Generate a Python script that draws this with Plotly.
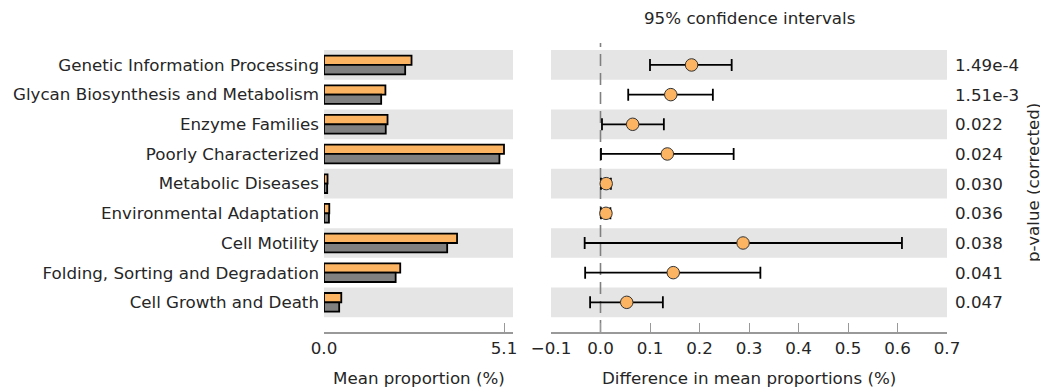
import plotly.graph_objects as go

categories = ["Genetic Information Processing", "Glycan Biosynthesis and Metabolism",
              "Enzyme Families", "Poorly Characterized", "Metabolic Diseases",
              "Environmental Adaptation", "Cell Motility",
              "Folding, Sorting and Degradation", "Cell Growth and Death"]
group1_mean = [2.48, 1.74, 1.80, 5.10, 0.10, 0.15, 3.77, 2.16, 0.49]
group2_mean = [2.30, 1.62, 1.75, 4.97, 0.09, 0.14, 3.49, 2.03, 0.43]
diff = [0.184, 0.142, 0.065, 0.135, 0.0115, 0.011, 0.288, 0.147, 0.053]
ci_low = [0.100, 0.056, 0.003, 0.001, 0.001, 0.001, -0.032, -0.031, -0.021]
ci_high = [0.265, 0.227, 0.128, 0.269, 0.021, 0.020, 0.609, 0.323, 0.126]
pvalues = ["1.49e-4", "1.51e-3", "0.022", "0.024", "0.030", "0.036", "0.038", "0.041", "0.047"]

ORANGE = "#FDB462"
GRAY = "#808080"
TXT = "#262626"
FONT = "DejaVu Sans"
FS = 16.7
W, H = 1048, 392
OFF = 8  # page body margin
PT, PB = 43 - OFF, 332 - OFF   # plot area top / bottom in figure pixels
PH = PB - PT


def px(x):
    return (x - OFF) / W


def py(y):
    return (PB - (y - OFF)) / PH


fig = go.Figure()
fig.add_trace(go.Bar(y=categories, x=group1_mean, orientation="h",
                     marker=dict(color=ORANGE, line=dict(color="black", width=1.8)),
                     xaxis="x", yaxis="y", showlegend=False))
fig.add_trace(go.Bar(y=categories, x=group2_mean, orientation="h",
                     marker=dict(color=GRAY, line=dict(color="black", width=1.8)),
                     xaxis="x", yaxis="y", showlegend=False))
fig.add_trace(go.Scatter(
    y=categories, x=diff, mode="markers", xaxis="x2", yaxis="y", showlegend=False,
    marker=dict(size=12.5, color=ORANGE, line=dict(color="#333333", width=1)),
    error_x=dict(type="data", symmetric=False,
                 array=[h - d for h, d in zip(ci_high, diff)],
                 arrayminus=[d - l for d, l in zip(diff, ci_low)],
                 color="black", thickness=1.8, width=6)))

shapes = []
for i in range(0, len(categories), 2):
    for xr in ("x domain", "x2 domain"):
        shapes.append(dict(type="rect", xref=xr, yref="y", x0=0, x1=1,
                           y0=i - 0.5, y1=i + 0.5, fillcolor="#E5E5E5",
                           line=dict(width=0), layer="below"))
shapes.append(dict(type="line", xref="x2", yref="y domain", x0=0, x1=0, y0=0, y1=1,
                   line=dict(color="#808080", width=1.6, dash="12px,7px"), layer="below"))

axis_common = dict(showline=True, linecolor="#999999", linewidth=1.5, ticks="inside",
                   ticklen=9, tickcolor="#999999", tickwidth=1.2, showgrid=False,
                   zeroline=False, tickfont=dict(family=FONT, size=FS, color=TXT),
                   automargin=False)

fig.update_layout(
    width=W, height=H, plot_bgcolor="white", paper_bgcolor="white",
    margin=dict(l=0, r=0, t=PT, b=H - PB),
    barmode="group", bargap=0.37, bargroupgap=0,
    shapes=shapes,
    xaxis=dict(domain=[px(324), px(513)], range=[0, 5.355], tickvals=[0, 5.1],
               ticktext=["0.0", "5.1"], anchor="y", **axis_common),
    xaxis2=dict(domain=[px(551), px(947)], range=[-0.1, 0.7],
                tickvals=[-0.1, 0, 0.1, 0.2, 0.3, 0.4, 0.5, 0.6, 0.7],
                ticktext=["\u22120.1", "0.0", "0.1", "0.2", "0.3", "0.4", "0.5", "0.6", "0.7"],
                anchor="y", **axis_common),
    yaxis=dict(type="category", categoryorder="array", categoryarray=categories,
               range=[9.0, -0.74], showline=False, ticks="", showgrid=False,
               zeroline=False, automargin=False, ticklabelstandoff=4,
               tickfont=dict(family=FONT, size=FS, color=TXT)),
    font=dict(family=FONT, color=TXT),
)

ann = [
    dict(text="95% confidence intervals", x=749, y=18),
    dict(text="Mean proportion (%)", x=418.5, y=378),
    dict(text="Difference in mean proportions (%)", x=749, y=378),
    dict(text="p-value (corrected)", x=1033, y=183, textangle=-90),
]
annotations = []
for a in ann:
    a.update(xref="paper", yref="paper", x=px(a["x"]), y=py(a["y"]), xanchor="center",
             yanchor="middle", showarrow=False, font=dict(size=FS))
    annotations.append(a)
for cat, p in zip(categories, pvalues):
    annotations.append(dict(text=p, x=px(953), y=cat, xref="paper", yref="y",
                            xanchor="left", yanchor="middle", showarrow=False,
                            font=dict(size=FS)))
fig.update_layout(annotations=annotations)

fig.write_html("out.html")
